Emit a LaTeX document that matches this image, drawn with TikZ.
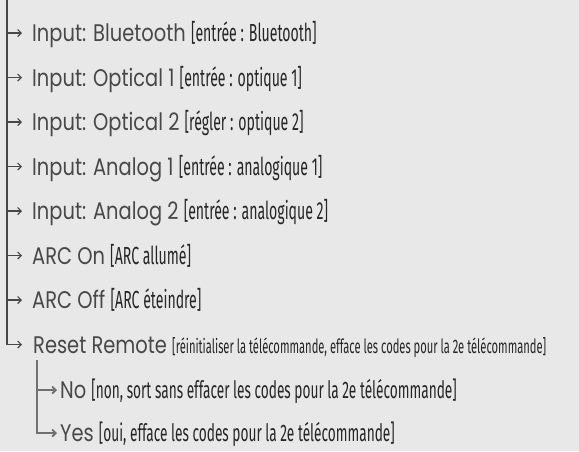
\documentclass[tikz,border=0pt]{standalone}
\usepackage{fontspec}
\setmainfont{Poppins}[FakeStretch=0.81]
\newfontfamily\notefont{Fira Sans}[FakeStretch=0.57]
\usetikzlibrary{arrows.meta}
\definecolor{panel}{HTML}{E8E8E8}
\definecolor{ink}{HTML}{484848}
\definecolor{noteink}{HTML}{262626}
\definecolor{subink}{HTML}{707070}
\newcommand{\note}[2][24.7]{{\notefont\fontsize{#1}{#1}\selectfont\color{noteink}[#2]}}
\tikzset{
  entry/.style={anchor=west, inner sep=0pt, text height=17pt, text depth=0pt,
    text=ink, font=\fontsize{24}{24}\selectfont},
  branch/.style={draw=ink, line width=1.2pt, -{Straight Barb[length=3.5pt,width=7pt]}},
  subbranch/.style={draw=subink, line width=1.8pt, -{Straight Barb[length=3.5pt,width=7pt]}},
}

\begin{document}
\begin{tikzpicture}[x=1pt,y=-1pt]
%%%%% START %%%%%
\fill[panel] (0,0) rectangle (579,451);
\useasboundingbox (0,0) rectangle (579,451);

\coordinate (top) at (7,0);
\coordinate (sub) at (37,360);

\node[entry] (bt) at (32,33) {Input: Bluetooth \note{entrée : Bluetooth}};
\node[entry] (op1) at (32,77.5) {Input: Optical 1 \note{entrée : optique 1}};
\node[entry] (op2) at (32,122) {Input: Optical 2 \note{régler : optique 2}};
\node[entry] (an1) at (32,166.5) {Input: Analog 1 \note{entrée : analogique 1}};
\node[entry] (an2) at (32,211) {Input: Analog 2 \note{entrée : analogique 2}};
\node[entry] (arcon) at (32,255.5) {ARC On \note{ARC allumé}};
\node[entry] (arcoff) at (32,300) {ARC Off \note{ARC éteindre}};
\node[entry] (reset) at (33,344.5) {Reset Remote \note[19.6]{réinitialiser la télécommande, efface les codes pour la 2e télécommande}};
\node[entry] (no) at (60,390) {No \note[24]{non, sort sans effacer les codes pour la 2e télécommande}};
\node[entry] (yes) at (60,433) {Yes \note[24]{oui, efface les codes pour la 2e télécommande}};

% main branch
\draw[branch] (top |- bt.west) -- ([xshift=-10pt]bt.west);
\draw[branch] (top |- op1.west) -- ([xshift=-10pt]op1.west);
\draw[branch] (top |- op2.west) -- ([xshift=-10pt]op2.west);
\draw[branch] (top |- an1.west) -- ([xshift=-10pt]an1.west);
\draw[branch] (top |- an2.west) -- ([xshift=-10pt]an2.west);
\draw[branch] (top |- arcon.west) -- ([xshift=-10pt]arcon.west);
\draw[branch] (top |- arcoff.west) -- ([xshift=-10pt]arcoff.west);
\draw[branch] (top) |- ([xshift=-11pt]reset.west);

% reset branch
\draw[subbranch] (sub |- no.west) -- ([xshift=-3pt]no.west);
\draw[subbranch] (sub) |- ([xshift=-3pt]yes.west);
%%%%% END %%%%%
\end{tikzpicture}
\end{document}
